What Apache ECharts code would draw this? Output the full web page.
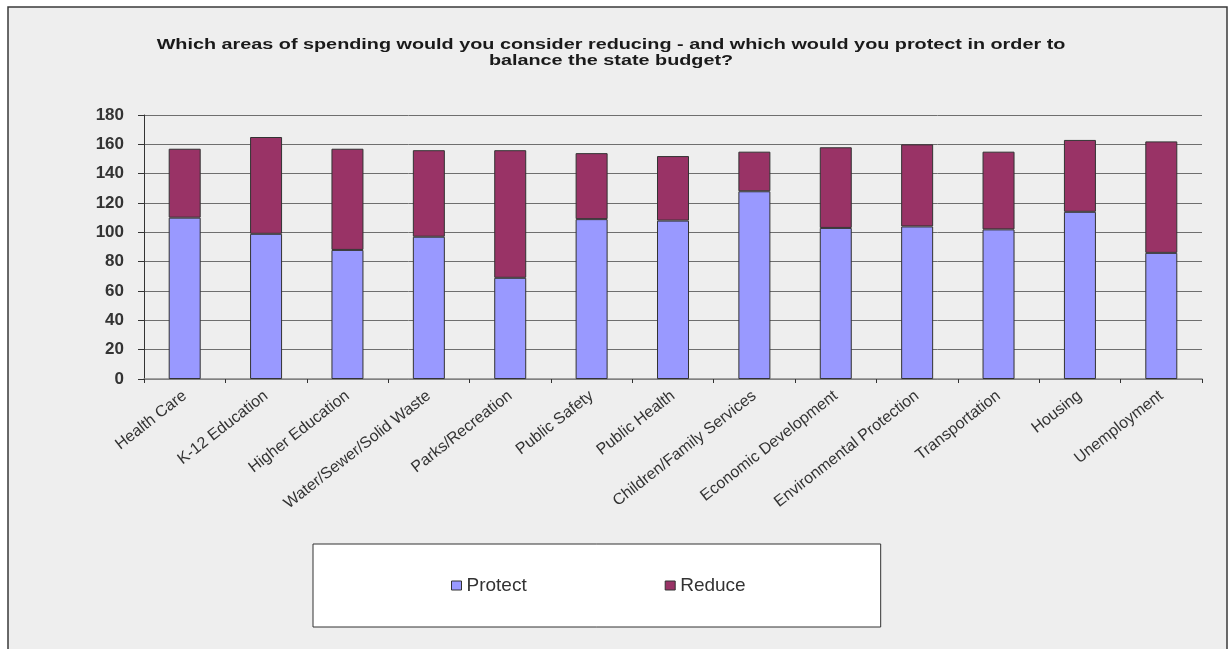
<!DOCTYPE html>
<html>
<head>
<meta charset="utf-8">
<script src="https://cdn.jsdelivr.net/npm/echarts@6/dist/echarts.min.js"></script>
<style>
html,body{margin:0;padding:0;background:#ffffff;}
#chart{width:1228px;height:649px;}
</style>
</head>
<body>
<div id="chart"></div>
<script>
const titleText = "Which areas of spending would you consider reducing - and which would you protect in order to\nbalance the state budget?";
const categories = ["Health Care","K-12 Education","Higher Education","Water/Sewer/Solid Waste","Parks/Recreation","Public Safety","Public Health","Children/Family Services","Economic Development","Environmental Protection","Transportation","Housing","Unemployment"];
const protectValues = [110, 99, 88, 97, 69, 109, 108, 128, 103, 104, 102, 114, 86];
const reduceValues = [47, 66, 69, 59, 87, 45, 44, 27, 55, 56, 53, 49, 76];
const seriesNames = ["Protect", "Reduce"];
const yTicks = {min: 0, max: 180, interval: 20};

const FONT = "'Liberation Sans', Arial, sans-serif";
const chart = echarts.init(document.getElementById('chart'), null, {renderer: 'canvas'});
chart.setOption({
  animation: false,
  backgroundColor: '#ffffff',
  graphic: [{
    type: 'rect', z: -10, silent: true,
    shape: {x: 8, y: 7, width: 1219, height: 660},
    style: {fill: '#eeeeee', stroke: '#3a3a3a', lineWidth: 1.5}
  }, {
    type: 'text', silent: true,
    x: 611, y: 37, scaleX: 1.32,
    style: {
      text: titleText,
      font: "bold 15px 'Liberation Sans', Arial, sans-serif",
      textAlign: 'center', lineHeight: 16, fill: '#1a1a1a'
    }
  }],
  legend: {
    data: seriesNames,
    left: 313, top: 544,
    padding: [32, 135, 32, 138],
    itemGap: 138,
    itemWidth: 10, itemHeight: 9,
    icon: 'rect',
    backgroundColor: '#ffffff',
    borderColor: '#333333', borderWidth: 1,
    textStyle: {fontFamily: FONT, fontSize: 19, color: '#333333'},
    itemStyle: {borderColor: '#333333', borderWidth: 1}
  },
  grid: {left: 144, right: 26, top: 115, bottom: 270, containLabel: false},
  xAxis: {
    type: 'category',
    data: categories,
    boundaryGap: true,
    axisLine: {lineStyle: {color: '#888888', width: 1.5}},
    axisTick: {show: true, length: 4, alignWithLabel: false, lineStyle: {color: '#333333'}},
    axisLabel: {rotate: 38, interval: 0, fontFamily: FONT, fontSize: 16, color: '#333333', margin: 15}
  },
  yAxis: {
    type: 'value',
    min: yTicks.min, max: yTicks.max, interval: yTicks.interval,
    axisLine: {show: true, lineStyle: {color: '#333333', width: 1}},
    axisTick: {show: true, length: 6, lineStyle: {color: '#333333'}},
    axisLabel: {fontFamily: FONT, fontWeight: 'bold', fontSize: 17, color: '#333333', margin: 20},
    splitLine: {lineStyle: {color: '#6e6e6e', width: 1}}
  },
  series: [
    {
      name: seriesNames[0], type: 'bar', stack: 'total', data: protectValues, barWidth: 32,
      itemStyle: {color: '#9999ff', borderColor: '#333333', borderWidth: 1}
    },
    {
      name: seriesNames[1], type: 'bar', stack: 'total', data: reduceValues, barWidth: 32,
      itemStyle: {color: '#993366', borderColor: '#333333', borderWidth: 1}
    }
  ]
});
</script>
</body>
</html>
